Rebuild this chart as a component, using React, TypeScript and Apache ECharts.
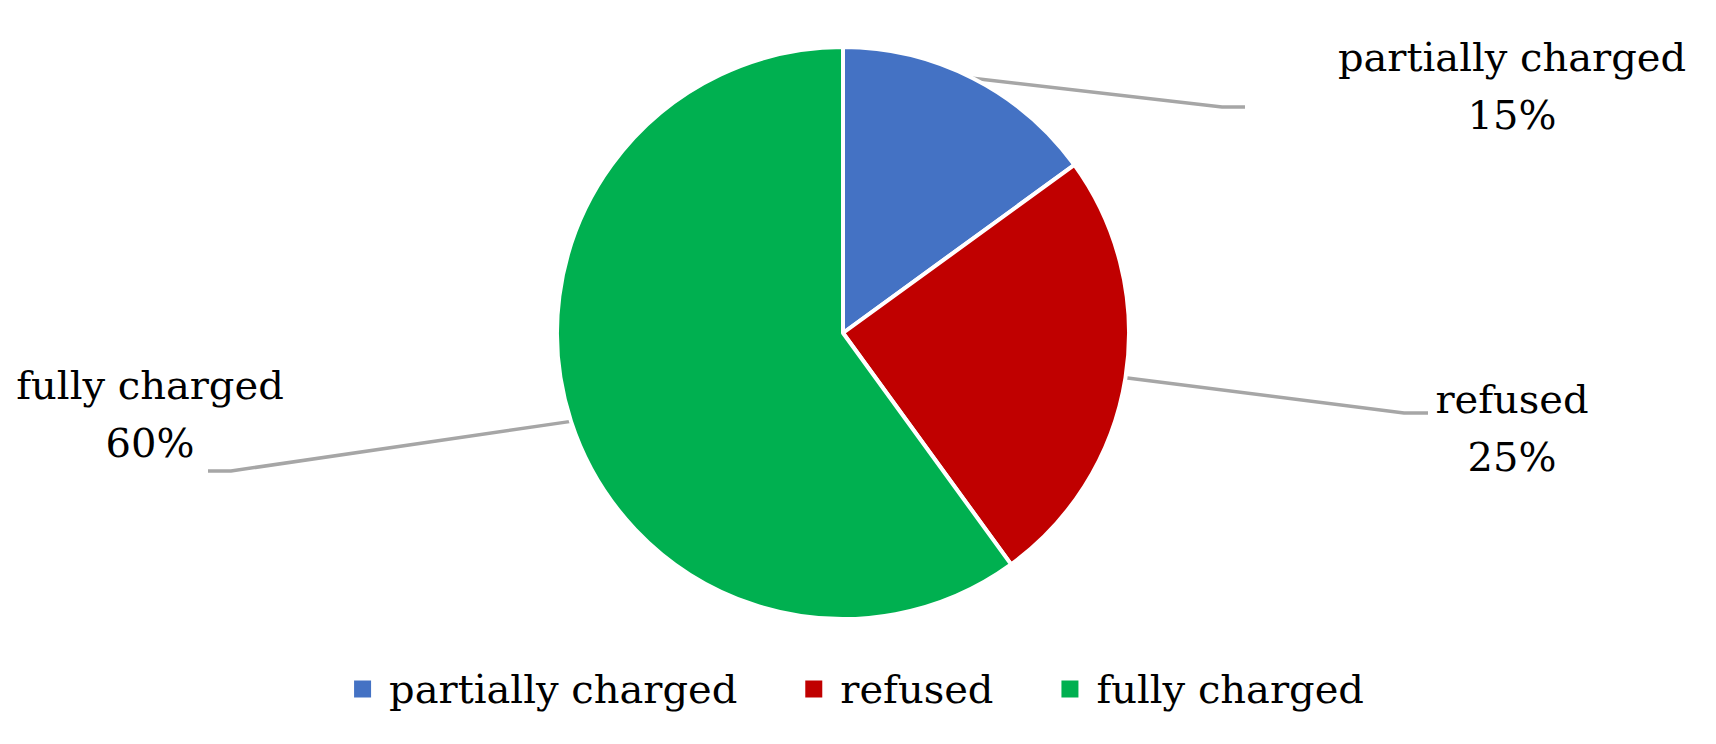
import React, { useEffect, useRef } from "react";
import * as echarts from "echarts";

const categories = ["partially charged", "refused", "fully charged"];
const values = [15, 25, 60];
const colors = ["#4472C4", "#C00000", "#00B050"];

// label anchors (layout only)
const labelPos = [
  { x: 1512, y: 86, elbowX: 1222, endX: 1245, lineY: 107 },
  { x: 1512, y: 428, elbowX: 1404, endX: 1428, lineY: 413 },
  { x: 150, y: 414, elbowX: 231, endX: 208, lineY: 471 },
];

const FONT = "DejaVu Serif";
const FS = 40;

export default function App() {
  const ref = useRef<HTMLDivElement>(null);
  useEffect(() => {
    if (!ref.current) return;
    const chart = echarts.init(ref.current, undefined, { renderer: "svg" });
    chart.setOption({
      animation: false,
      backgroundColor: "#ffffff",
      legend: {
        bottom: 30,
        left: "center",
        itemWidth: 19,
        itemHeight: 19,
        itemGap: 66,
        icon: "rect",
        data: categories,
        textStyle: {
          fontFamily: FONT,
          fontSize: FS,
          color: "#000",
          padding: [0, 0, 0, 12],
        },
      },
      series: [
        {
          type: "pie",
          center: [843, 333],
          radius: 286,
          startAngle: 90,
          clockwise: true,
          data: categories.map((c, i) => ({
            name: c,
            value: values[i],
            itemStyle: { color: colors[i] },
          })),
          itemStyle: { borderColor: "#ffffff", borderWidth: 4 },
          label: {
            show: true,
            formatter: "{b}\n{d}%",
            fontFamily: FONT,
            fontSize: FS,
            lineHeight: 58,
            color: "#000",
            align: "center",
          },
          labelLine: {
            show: true,
            lineStyle: { color: "#a6a6a6", width: 3.5 },
          },
          labelLayout: (params: any) => {
            const p = labelPos[params.dataIndex];
            const start = params.labelLinePoints
              ? params.labelLinePoints[0]
              : [p.elbowX, p.lineY];
            return {
              x: p.x,
              y: p.y,
              align: "center",
              verticalAlign: "middle",
              labelLinePoints: [
                start,
                [p.elbowX, p.lineY],
                [p.endX, p.lineY],
              ],
            };
          },
        },
      ],
    });
    return () => chart.dispose();
  }, []);
  return (
    <div
      ref={ref}
      style={{ position: "fixed", left: 0, top: 0, width: 1716, height: 744 }}
    />
  );
}
